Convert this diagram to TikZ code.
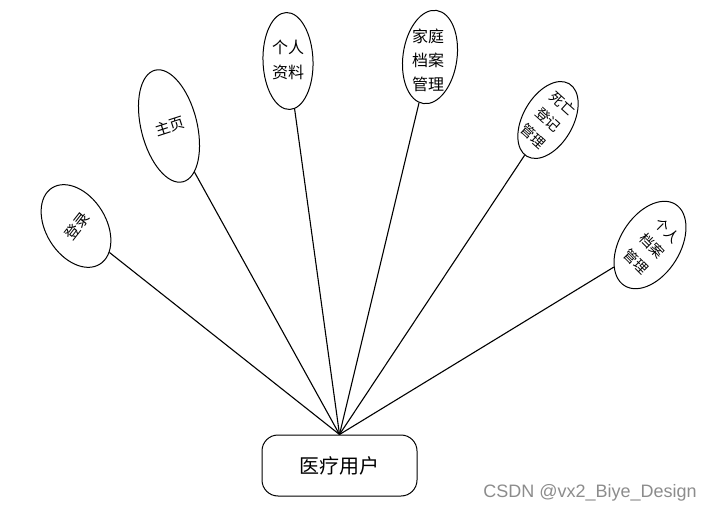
\documentclass[tikz,border=0pt]{standalone}
\usepackage{fontspec}
\setmainfont{Noto Sans CJK SC}
\newfontfamily\wmfont{Liberation Sans}
\usetikzlibrary{shapes.geometric}
\begin{document}
\begin{tikzpicture}[x=1pt,y=1pt,
  bub/.style={draw,ellipse,line width=1pt,inner sep=0pt},
  lbl/.style={align=center,inner sep=0pt,font=\fontsize{15}{21}\selectfont},
  link/.style={line width=1.1pt}]
\useasboundingbox (0,0) rectangle (712,512);
% bubbles
\node[bub,minimum width=60pt,minimum height=90pt,rotate=32] (e1) at (76,286) {};
\node[bub,minimum width=56pt,minimum height=115pt,rotate=14] (e2) at (169,386) {};
\node[bub,minimum width=50pt,minimum height=97pt,rotate=2] (e3) at (288,451) {};
\node[bub,minimum width=54pt,minimum height=94pt,rotate=-8] (e4) at (430,455) {};
\node[bub,minimum width=50pt,minimum height=84pt,rotate=-30] (e5) at (548,392) {};
\node[bub,minimum width=60pt,minimum height=96pt,rotate=-32] (e6) at (650,267) {};
% labels
\node[lbl,rotate=52] (t1) at (77,286) {登录};
\node[lbl,rotate=18] (t2) at (170,386) {主页};
\node[lbl,font=\fontsize{16}{25}\selectfont] (t3) at (288,452) {个人\\资料};
\node[lbl,font=\fontsize{16}{24}\selectfont] (t4) at (428,452) {家庭\\档案\\管理};
\node[lbl,rotate=-42,font=\fontsize{14}{22}\selectfont] (t5) at (548,392) {死亡\\登记\\管理};
\node[lbl,rotate=-45,font=\fontsize{14}{22}\selectfont] (t6) at (652,266) {个人\\档案\\管理};
% hub
\node[draw,rounded corners=16pt,line width=1pt,minimum width=155pt,minimum height=61pt,
  font=\fontsize{20}{24}\selectfont] (hub) at (339.5,46.5) {医疗用户};
% connectors
\foreach \e in {e1,e2,e3,e4,e5,e6}
  \draw[link] (hub.north) -- (\e);
% watermark
\node[text=black!45,font=\wmfont\fontsize{18}{20}\selectfont,anchor=east,inner sep=0pt] (wm) at (697,19) {CSDN @vx2\_Biye\_Design};
\end{tikzpicture}
\end{document}
